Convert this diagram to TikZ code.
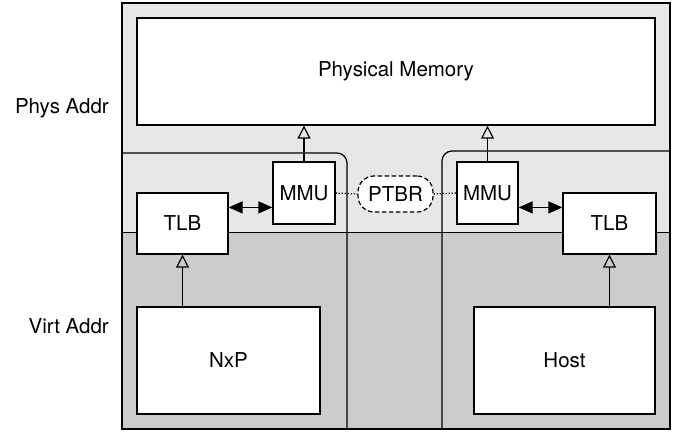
\documentclass[tikz,border=0pt]{standalone}
\usepackage{fontspec}
\setmainfont{TeX Gyre Heros}
\usetikzlibrary{arrows.meta}
\definecolor{physbg}{gray}{0.905}
\definecolor{virtbg}{gray}{0.80}
\tikzset{
  unit/.style={draw, fill=white, line width=1.2pt, inner sep=0pt,
    font=\fontsize{20.5}{24}\selectfont},
  region/.style={line width=1.2pt},
  opentip/.style={line width=1.1pt, -{Triangle[open, width=13pt, length=13pt, line width=1.2pt]}},
  twoway/.style={line width=1.2pt, {Triangle[width=12pt, length=14pt]}-{Triangle[width=12pt, length=14pt]}},
  regptr/.style={draw, dash pattern=on 4.5pt off 2.5pt, fill=white, rounded corners=16pt,
    line width=1.2pt, inner sep=0pt, font=\fontsize{20.5}{24}\selectfont},
  shared/.style={line width=1.2pt, dash pattern=on 1.2pt off 1.8pt},
  sidelabel/.style={anchor=east, inner sep=0pt, font=\fontsize{20.5}{24}\selectfont},
}
\begin{document}
\begin{tikzpicture}[x=1pt, y=-1pt]
\useasboundingbox (0,0) rectangle (678,432);

% address-space bands
\fill[physbg] (122,3) rectangle (670,232);
\fill[virtbg] (122,232) rectangle (670,429);
\draw[line width=0.8pt] (122,232) -- (670,232);
\draw[line width=1.1pt] (122,3) rectangle (670,429);

% NxP and host partitions
\draw[region, rounded corners=10pt] (122,153) -- (347,153) -- (347,429);
\draw[region, rounded corners=10pt] (442,429) -- (442,151) -- (670,151);

% units
\node[unit, minimum width=518pt, minimum height=107pt] (pm) at (396,71.5) {Physical Memory};
\node[unit, minimum width=62pt, minimum height=62pt] (mmuL) at (304,193) {MMU};
\node[unit, minimum width=61pt, minimum height=62pt] (mmuR) at (487.5,193) {MMU};
\node[regptr, minimum width=75pt, minimum height=36pt] (ptbr) at (395.5,194) {PTBR};
\node[unit, minimum width=91pt, minimum height=61pt] (tlbL) at (182.5,223.5) {TLB};
\node[unit, minimum width=93pt, minimum height=61pt] (tlbR) at (609.5,223.5) {TLB};
\node[unit, minimum width=183pt, minimum height=107pt] (nxp) at (228.5,360.5) {NxP};
\node[unit, minimum width=181pt, minimum height=107pt] (host) at (564.5,360.5) {Host};

% side labels
\node[sidelabel] (phys) at (109,108) {Phys Addr};
\node[sidelabel] (virt) at (109,326) {Virt Addr};

% translation paths
\draw[opentip] (mmuL.north) -- (mmuL.north |- pm.south);
\draw[opentip] (mmuR.north) -- (mmuR.north |- pm.south);
\draw[opentip] (nxp.north -| tlbL.south) -- (tlbL.south);
\draw[opentip] (host.north -| tlbR.south) -- (tlbR.south);

\coordinate (aL) at ([yshift=-15pt]tlbL.north east);
\coordinate (aR) at ([yshift=-15pt]tlbR.north west);
\draw[twoway] (aL) -- (aL -| mmuL.west);
\draw[twoway] (aR -| mmuR.east) -- (aR);

% shared page-table base register
\draw[shared] (mmuL.east) -- (ptbr.west);
\draw[shared] (ptbr.east) -- (mmuR.west);
\end{tikzpicture}
\end{document}
